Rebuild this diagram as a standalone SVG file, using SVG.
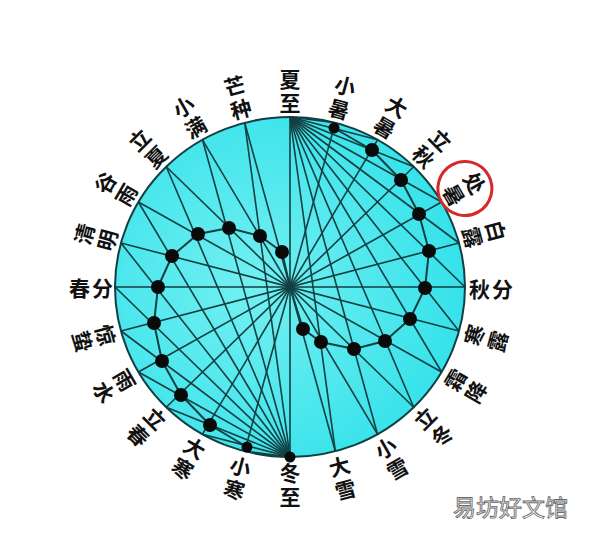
<svg xmlns="http://www.w3.org/2000/svg" width="600" height="540" viewBox="0 0 600 540">
<style>
.ln{stroke:#123f42;stroke-width:1.6;fill:none}
.dot{fill:#0a0a0a}
.lb{font-family:"Noto Sans CJK SC","Noto Sans",sans-serif;font-size:21px;font-weight:700;fill:#111;text-anchor:middle;dominant-baseline:central}
.wm{font-family:"Noto Sans CJK SC","Noto Sans",sans-serif;font-size:23px;fill:#fff;stroke:#6a6a6a;stroke-width:0.9}
</style>
<defs>
<radialGradient id="g" cx="0.4" cy="0.5" r="0.6">
<stop offset="0" stop-color="#74f0f2"/>
<stop offset="1" stop-color="#36e2ea"/>
</radialGradient>
</defs>
<rect width="600" height="540" fill="#fff"/>
<g id="disc"><ellipse cx="290" cy="287" rx="175" ry="170" fill="url(#g)" stroke="#123f42" stroke-width="2"/></g>
<g id="connectors" class="ln">
<line x1="290" y1="117" x2="290" y2="457"/>
<line x1="335.3" y1="122.8" x2="244.7" y2="451.2"/>
<line x1="377.5" y1="139.8" x2="202.5" y2="434.2"/>
<line x1="413.7" y1="166.8" x2="166.3" y2="407.2"/>
<line x1="441.6" y1="202" x2="138.4" y2="372"/>
<line x1="459" y1="243" x2="121" y2="331"/>
<line x1="465" y1="287" x2="115" y2="287"/>
<line x1="459" y1="331" x2="121" y2="243"/>
<line x1="441.6" y1="372" x2="138.4" y2="202"/>
<line x1="413.7" y1="407.2" x2="166.3" y2="166.8"/>
<line x1="377.5" y1="434.2" x2="202.5" y2="139.8"/>
<line x1="335.3" y1="451.2" x2="244.7" y2="122.8"/>
<line x1="290" y1="117" x2="335.3" y2="122.8"/>
<line x1="290" y1="117" x2="377.5" y2="139.8"/>
<line x1="290" y1="117" x2="413.7" y2="166.8"/>
<line x1="290" y1="117" x2="441.6" y2="202"/>
<line x1="290" y1="117" x2="459" y2="243"/>
<line x1="290" y1="117" x2="465" y2="287"/>
<line x1="290" y1="117" x2="459" y2="331"/>
<line x1="290" y1="117" x2="441.6" y2="372"/>
<line x1="290" y1="117" x2="413.7" y2="407.2"/>
<line x1="290" y1="117" x2="377.5" y2="434.2"/>
<line x1="290" y1="117" x2="335.3" y2="451.2"/>
<line x1="290" y1="457" x2="244.7" y2="451.2"/>
<line x1="290" y1="457" x2="202.5" y2="434.2"/>
<line x1="290" y1="457" x2="166.3" y2="407.2"/>
<line x1="290" y1="457" x2="138.4" y2="372"/>
<line x1="290" y1="457" x2="121" y2="331"/>
<line x1="290" y1="457" x2="115" y2="287"/>
<line x1="290" y1="457" x2="121" y2="243"/>
<line x1="290" y1="457" x2="138.4" y2="202"/>
<line x1="290" y1="457" x2="166.3" y2="166.8"/>
<line x1="290" y1="457" x2="202.5" y2="139.8"/>
<line x1="290" y1="457" x2="244.7" y2="122.8"/>
<polyline stroke-width="2" stroke-linejoin="round" points="334,128 372,150 401,180 419,214 429,251 425,288 410,319 385,341 354,349 321,342 303,329 290,287 282,252 260,236 229,228 198,234 172,256 158,287 154,323 162,361 181,395 210,425 247,447"/>
</g>
<g id="dots" class="dot">
<circle id="d-xiaoshu" cx="334" cy="128" r="5.5"/>
<circle id="d-dashu" cx="372" cy="150" r="7"/>
<circle id="d-liqiu" cx="401" cy="180" r="7"/>
<circle id="d-chushu" cx="419" cy="214" r="7"/>
<circle id="d-bailu" cx="429" cy="251" r="7"/>
<circle id="d-qiufen" cx="425" cy="288" r="7"/>
<circle id="d-hanlu" cx="410" cy="319" r="7"/>
<circle id="d-shuangjiang" cx="385" cy="341" r="7"/>
<circle id="d-lidong" cx="354" cy="349" r="7"/>
<circle id="d-xiaoxue" cx="321" cy="342" r="7"/>
<circle id="d-daxue" cx="303" cy="329" r="7"/>
<circle id="d-dongzhi" cx="290" cy="457" r="5.5"/>
<circle id="d-xiaohan" cx="247" cy="447" r="5.5"/>
<circle id="d-dahan" cx="210" cy="425" r="7"/>
<circle id="d-lichun" cx="181" cy="395" r="7"/>
<circle id="d-yushui" cx="162" cy="361" r="7"/>
<circle id="d-jingzhe" cx="154" cy="323" r="7"/>
<circle id="d-chunfen" cx="158" cy="287" r="7"/>
<circle id="d-qingming" cx="172" cy="256" r="7"/>
<circle id="d-guyu" cx="198" cy="234" r="7"/>
<circle id="d-lixia" cx="229" cy="228" r="7"/>
<circle id="d-xiaoman" cx="260" cy="236" r="7"/>
<circle id="d-mangzhong" cx="282" cy="252" r="7"/>
</g>
<g id="labels">
<g id="xiazhi" transform="translate(290,90) rotate(0)"><text class="lb"><tspan x="0" y="-12">夏</tspan><tspan x="0" y="12">至</tspan></text></g>
<g id="xiaoshu" transform="translate(342.3,96.7) rotate(15)"><text class="lb"><tspan x="0" y="-12">小</tspan><tspan x="0" y="12">暑</tspan></text></g>
<g id="dashu" transform="translate(391,116.4) rotate(30)"><text class="lb"><tspan x="0" y="-12">大</tspan><tspan x="0" y="12">暑</tspan></text></g>
<g id="liqiu" transform="translate(432.8,147.7) rotate(45)"><text class="lb"><tspan x="0" y="-12">立</tspan><tspan x="0" y="12">秋</tspan></text></g>
<g id="chushu" transform="translate(464.9,188.5) rotate(60)"><text class="lb"><tspan x="0" y="-12">处</tspan><tspan x="0" y="12">暑</tspan></text><circle cx="0" cy="0" r="27" fill="none" stroke="#d42a2a" stroke-width="3"/></g>
<g id="bailu" transform="translate(485,234) rotate(75)"><text class="lb"><tspan x="0" y="-12">白</tspan><tspan x="0" y="12">露</tspan></text></g>
<g id="qiufen" transform="translate(491,288)"><text class="lb"><tspan x="-11.5" y="0">秋</tspan><tspan x="11.5" y="0">分</tspan></text></g>
<g id="hanlu" transform="translate(485.1,338) rotate(-75)"><text class="lb"><tspan x="0" y="-12">寒</tspan><tspan x="0" y="12">露</tspan></text></g>
<g id="shuangjiang" transform="translate(464.9,385.5) rotate(-60)"><text class="lb"><tspan x="0" y="-12">霜</tspan><tspan x="0" y="12">降</tspan></text></g>
<g id="lidong" transform="translate(432.8,426.3) rotate(-45)"><text class="lb"><tspan x="0" y="-12">立</tspan><tspan x="0" y="12">冬</tspan></text></g>
<g id="xiaoxue" transform="translate(391,457.6) rotate(-30)"><text class="lb"><tspan x="0" y="-12">小</tspan><tspan x="0" y="12">雪</tspan></text></g>
<g id="daxue" transform="translate(342.3,477.3) rotate(-15)"><text class="lb"><tspan x="0" y="-12">大</tspan><tspan x="0" y="12">雪</tspan></text></g>
<g id="dongzhi" transform="translate(290,484) rotate(0)"><text class="lb"><tspan x="0" y="-12">冬</tspan><tspan x="0" y="12">至</tspan></text></g>
<g id="xiaohan" transform="translate(237.7,477.3) rotate(15)"><text class="lb"><tspan x="0" y="-12">小</tspan><tspan x="0" y="12">寒</tspan></text></g>
<g id="dahan" transform="translate(189,457.6) rotate(30)"><text class="lb"><tspan x="0" y="-12">大</tspan><tspan x="0" y="12">寒</tspan></text></g>
<g id="lichun" transform="translate(147.2,426.3) rotate(45)"><text class="lb"><tspan x="0" y="-12">立</tspan><tspan x="0" y="12">春</tspan></text></g>
<g id="yushui" transform="translate(115.1,385.5) rotate(60)"><text class="lb"><tspan x="0" y="-12">雨</tspan><tspan x="0" y="12">水</tspan></text></g>
<g id="jingzhe" transform="translate(94.9,338) rotate(75)"><text class="lb"><tspan x="0" y="-12">惊</tspan><tspan x="0" y="12">蛰</tspan></text></g>
<g id="chunfen" transform="translate(91,287)"><text class="lb"><tspan x="-11.5" y="0">春</tspan><tspan x="11.5" y="0">分</tspan></text></g>
<g id="qingming" transform="translate(95,237) rotate(-75)"><text class="lb"><tspan x="0" y="-12">清</tspan><tspan x="0" y="12">明</tspan></text></g>
<g id="guyu" transform="translate(115.1,188.5) rotate(-60)"><text class="lb"><tspan x="0" y="-12">谷</tspan><tspan x="0" y="12">雨</tspan></text></g>
<g id="lixia" transform="translate(147.2,147.7) rotate(-45)"><text class="lb"><tspan x="0" y="-12">立</tspan><tspan x="0" y="12">夏</tspan></text></g>
<g id="xiaoman" transform="translate(189,116.4) rotate(-30)"><text class="lb"><tspan x="0" y="-12">小</tspan><tspan x="0" y="12">满</tspan></text></g>
<g id="mangzhong" transform="translate(237.7,96.7) rotate(-15)"><text class="lb"><tspan x="0" y="-12">芒</tspan><tspan x="0" y="12">种</tspan></text></g>
</g>
<g id="watermark"><text class="wm" x="453" y="516">易坊好文馆</text></g>
</svg>
